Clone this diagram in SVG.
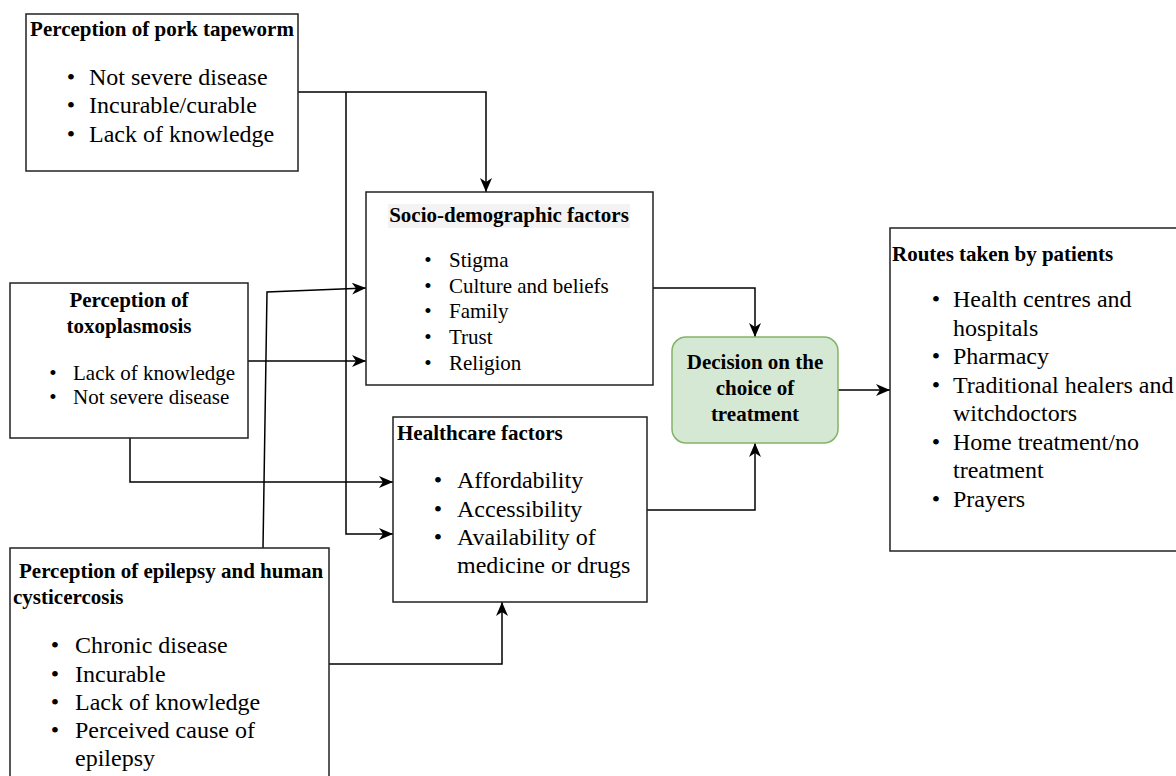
<svg xmlns="http://www.w3.org/2000/svg" width="1176" height="776" viewBox="0 0 1176 776">
<defs>
<marker id="arr" markerUnits="userSpaceOnUse" markerWidth="16" markerHeight="14" refX="14" refY="6" orient="auto">
<path d="M0,0 L14,6 L0,12 L4,6 Z" fill="#000"/>
</marker>
<style>
.box{fill:#fff;stroke:#222;stroke-width:1.5}
.t{font-family:"Liberation Serif","Times New Roman",serif;fill:#000}
.b{font-weight:bold;font-size:21px}
.i21{font-size:21px}
.i24{font-size:24px}
.c{text-anchor:middle}
.con{fill:none;stroke:#000;stroke-width:1.5;marker-end:url(#arr)}
</style>
</defs>
<rect width="1176" height="776" fill="#fff"/>

<g id="connectors">
<path class="con" d="M298,92 H486 V192"/>
<path class="con" d="M346,92 V534 H393"/>
<path class="con" d="M248,361 H366"/>
<path class="con" d="M130,438 V482 H393"/>
<path class="con" d="M263,548 L267,292 L366,288"/>
<path class="con" d="M329,664 H502 V602"/>
<path class="con" d="M653,288 H755 V337"/>
<path class="con" d="M647,510 H755 V443"/>
<path class="con" d="M838,390 H890"/>
</g>

<g id="pork">
<rect class="box" x="26" y="14" width="272" height="157"/>
<text class="t b c" x="162" y="36">Perception of pork tapeworm</text>
<g class="t i24">
<text x="71" y="85" class="c">•</text><text x="89" y="85">Not severe disease</text>
<text x="71" y="113" class="c">•</text><text x="89" y="113">Incurable/curable</text>
<text x="71" y="142" class="c">•</text><text x="89" y="142">Lack of knowledge</text>
</g>
</g>

<g id="socio">
<rect class="box" x="366" y="192" width="287" height="193"/>
<rect x="388" y="204" width="242" height="24" fill="#f3f3f3"/>
<text class="t b c" x="509" y="222">Socio-demographic factors</text>
<g class="t i21">
<text x="428" y="267" class="c">•</text><text x="449" y="267">Stigma</text>
<text x="428" y="293" class="c">•</text><text x="449" y="293">Culture and beliefs</text>
<text x="428" y="318" class="c">•</text><text x="449" y="318">Family</text>
<text x="428" y="344" class="c">•</text><text x="449" y="344">Trust</text>
<text x="428" y="370" class="c">•</text><text x="449" y="370">Religion</text>
</g>
</g>

<g id="toxo">
<rect class="box" x="10" y="283" width="238" height="155"/>
<text class="t b c" x="129" y="307">Perception of</text>
<text class="t b c" x="129" y="333">toxoplasmosis</text>
<g class="t i21">
<text x="53" y="380" class="c">•</text><text x="73" y="380">Lack of knowledge</text>
<text x="53" y="404" class="c">•</text><text x="73" y="404">Not severe disease</text>
</g>
</g>

<g id="healthcare">
<rect class="box" x="393" y="417" width="254" height="185"/>
<text class="t b" x="397" y="440">Healthcare factors</text>
<g class="t i24">
<text x="438" y="488" class="c">•</text><text x="457" y="488">Affordability</text>
<text x="438" y="517" class="c">•</text><text x="457" y="517">Accessibility</text>
<text x="438" y="545" class="c">•</text><text x="457" y="545">Availability of</text>
<text x="457" y="573">medicine or drugs</text>
</g>
</g>

<g id="epilepsy">
<rect class="box" x="10" y="548" width="319" height="240"/>
<text class="t b" x="19" y="578">Perception of epilepsy and human</text>
<text class="t b" x="13" y="604">cysticercosis</text>
<g class="t i24">
<text x="55" y="653" class="c">•</text><text x="75" y="653">Chronic disease</text>
<text x="55" y="682" class="c">•</text><text x="75" y="682">Incurable</text>
<text x="55" y="710" class="c">•</text><text x="75" y="710">Lack of knowledge</text>
<text x="55" y="738" class="c">•</text><text x="75" y="738">Perceived cause of</text>
<text x="75" y="766">epilepsy</text>
</g>
</g>

<g id="decision">
<rect x="672" y="337" width="166" height="106" rx="14" ry="14" fill="#d5e8d4" stroke="#82b366" stroke-width="1.5"/>
<text class="t b c" x="755" y="369">Decision on the</text>
<text class="t b c" x="755" y="395">choice of</text>
<text class="t b c" x="755" y="421">treatment</text>
</g>

<g id="routes">
<rect class="box" x="890" y="228" width="300" height="323"/>
<text class="t b" x="892" y="261">Routes taken by patients</text>
<g class="t i24">
<text x="936" y="307" class="c">•</text><text x="953" y="307">Health centres and</text>
<text x="953" y="336">hospitals</text>
<text x="936" y="364" class="c">•</text><text x="953" y="364">Pharmacy</text>
<text x="936" y="393" class="c">•</text><text x="953" y="393">Traditional healers and</text>
<text x="953" y="421">witchdoctors</text>
<text x="936" y="450" class="c">•</text><text x="953" y="450">Home treatment/no</text>
<text x="953" y="478">treatment</text>
<text x="936" y="507" class="c">•</text><text x="953" y="507">Prayers</text>
</g>
</g>
</svg>
